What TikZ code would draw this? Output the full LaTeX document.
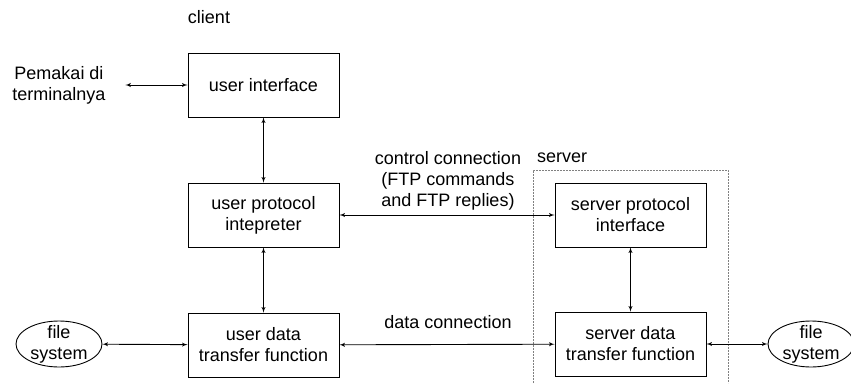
\documentclass[tikz,border=0pt]{standalone}
\usepackage{fontspec}
\setmainfont{Liberation Sans}
\usetikzlibrary{arrows,shapes}
\tikzstyle{blok} = [draw, minimum width=151pt, minimum height=64pt, align=center]
\tikzstyle{fsys} = [ellipse, draw, minimum width=86pt, minimum height=46pt, inner sep=-10pt, align=center]
\tikzstyle{teks} = [align=center]
\tikzstyle{batas} = [draw=gray, dash pattern=on 2pt off 1pt]

\begin{document}
\begin{tikzpicture}[x=1pt,y=-1pt,>=latex',line width=0.9pt,font=\fontsize{18}{21}\selectfont]
    \useasboundingbox (0,0) rectangle (851,383);

    %client
    \node at (209,17) (client) {client};
    \node[teks] at (59,85) (pemakai) {Pemakai di\\terminalnya};
    \node[blok] at (263.5,85) (ui) {user interface};
    \node[blok] at (263.5,215) (upi) {user protocol\\intepreter};
    \node[blok] at (263.5,345) (udt) {user data\\transfer function};
    \node[fsys] at (59,344) (fsL) {file\\system};

    %server
    \draw[batas] (533,383) -- (533,170) -- (728,170) -- (728,383);
    \node at (562,158) (server) {server};
    \node[blok] at (630.5,215) (spi) {server protocol\\interface};
    \node[blok] at (630.5,344) (sdt) {server data\\transfer function};
    \node[fsys] at (811,344) (fsR) {file\\system};

    %connections
    \node[teks] at (448,181) (ctrl) {control connection\\(FTP commands\\and FTP replies)};
    \node at (448,322) (data) {data connection};
    \path[<->] (pemakai.east) edge[shorten <=16pt] (ui.west);
    \path[<->] (ui) edge (upi);
    \path[<->] (upi) edge (udt);
    \path[<->] (spi) edge (sdt);
    \path[<->] (upi) edge (spi);
    \path[<->] (udt) edge (sdt);
    \path[<->] (fsL) edge (udt);
    \path[<->] (sdt) edge (fsR);

\end{tikzpicture}
\end{document}
